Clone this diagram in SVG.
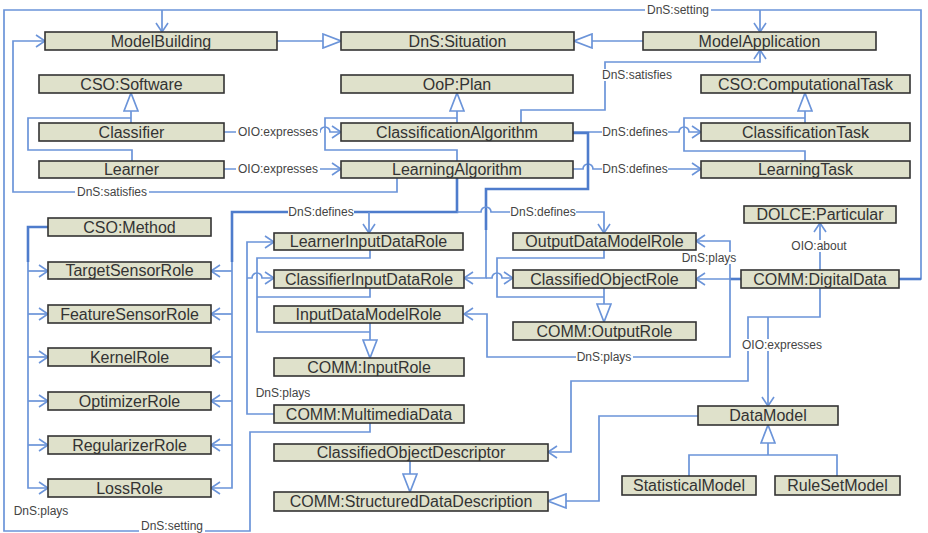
<svg xmlns="http://www.w3.org/2000/svg" width="928" height="533" viewBox="0 0 928 533">
<defs>
<marker id="arr" markerUnits="userSpaceOnUse" markerWidth="12" markerHeight="14" refX="10" refY="7" orient="auto">
<path d="M1,1 L10,7 L1,13" fill="none" stroke="#6b94d9" stroke-width="1.6"/>
</marker>
<marker id="tri" markerUnits="userSpaceOnUse" markerWidth="21" markerHeight="16" refX="19" refY="8" orient="auto">
<path d="M1,1 L19,8 L1,15 Z" fill="#fff" stroke="#6b94d9" stroke-width="1.7"/>
</marker>
</defs>
<style>
.c{fill:none;stroke:#6b94d9;stroke-width:1.7}
.t{fill:none;stroke:#4e7ccc;stroke-width:2.6}
.a{marker-end:url(#arr)}
.g{marker-end:url(#tri)}
.n rect{fill:#dfe1cb;stroke:#333;stroke-width:1.6}
.n text{font-family:"Liberation Sans",Arial,sans-serif;font-size:16px;fill:#333;text-anchor:middle}
.lb rect{fill:#fff}
.lb text{font-family:"Liberation Sans",Arial,sans-serif;font-size:12px;fill:#444;text-anchor:middle}
</style>
<rect width="928" height="533" fill="#fff"/>
<g id="connectors">
<!-- DnS:setting -->
<path class="c" d="M899,279 H921 V10 H4 V531 H250 V432 H370 V423"/>
<path class="t" d="M899,279 H921"/>
<path class="c a" d="M162,10 V32"/>
<path class="c a" d="M760,10 V32"/>
<!-- DnS:satisfies -->
<path class="c a" d="M397,178 V192 H13 V41 H45"/>
<path class="c a" d="M521,123 V110 H605 V62 H760 V50"/>
<!-- to DnS:Situation -->
<path class="c g" d="M277,41 H341"/>
<path class="c g" d="M643,41 H574"/>
<!-- generalizations top -->
<path class="c g" d="M131,123 V93"/>
<path class="c" d="M132,161 V150 H28 V118 H131"/>
<path class="c g" d="M457,123 V93"/>
<path class="c" d="M457,161 V150 H325 V118 H457"/>
<path class="c g" d="M805,123 V93"/>
<path class="c" d="M805,161 V151 H684 V118 H805"/>
<!-- OIO:expresses -->
<path class="c a" d="M224,132 H320 A5,5 0 0 1 330,132 H341"/>
<path class="c a" d="M224,169 H341"/>
<!-- DnS:defines tasks -->
<path class="c a" d="M573,132 H679 A5,5 0 0 1 689,132 H701"/>
<path class="c a" d="M573,169 H583 A5,5 0 0 1 593,169 H701"/>
<!-- ClassificationAlgorithm defines roles -->
<path class="t" d="M573,133 H588 V189 H486 V230"/>
<path class="c a" d="M486,230 V278 H464"/>
<path class="c a" d="M486,278 H492 A5,5 0 0 1 502,278 H513"/>
<!-- LearningAlgorithm defines roles -->
<path class="t" d="M457,178 V212 H232 V262"/>
<path class="c a" d="M232,262 V488 H211"/>
<path class="c a" d="M232,271 H211"/>
<path class="c a" d="M232,314 H211"/>
<path class="c a" d="M232,357 H211"/>
<path class="c a" d="M232,401 H211"/>
<path class="c a" d="M232,445 H211"/>
<path class="c a" d="M369,212 V233"/>
<path class="c a" d="M457,212 H481 A5,5 0 0 1 491,212 H604 V233"/>
<!-- CSO:Method -->
<path class="t" d="M48,227 H28 V262"/>
<path class="c a" d="M28,262 V488 H48"/>
<path class="c a" d="M28,271 H48"/>
<path class="c a" d="M28,314 H48"/>
<path class="c a" d="M28,357 H48"/>
<path class="c a" d="M28,401 H48"/>
<path class="c a" d="M28,445 H48"/>
<!-- MultimediaData plays -->
<path class="c a" d="M274,414 H247 V242 H274"/>
<path class="c a" d="M247,278 H252 A5,5 0 0 1 262,278 H274"/>
<!-- input generalization -->
<path class="c" d="M370,250 V258 H257 V332 H370"/>
<path class="c" d="M370,288 V297 H257"/>
<path class="c g" d="M370,323 V358"/>
<!-- output generalization -->
<path class="c" d="M604,250 V258 H497 V297 H604"/>
<path class="c g" d="M604,288 V322"/>
<!-- DigitalData plays -->
<path class="c a" d="M741,279 H696"/>
<path class="t" d="M741,279 H730"/>
<path class="c a" d="M730,279 V241 H696"/>
<path class="c a" d="M730,279 V357 H487 V314 H464"/>
<!-- OIO:about -->
<path class="c a" d="M820,270 V223"/>
<!-- OIO:expresses DigitalData -->
<path class="c a" d="M820,288 V317 H748 V381 H571 V452 H548"/>
<path class="c a" d="M768,317 V406"/>
<!-- descriptions -->
<path class="c g" d="M410,461 V492"/>
<path class="c g" d="M698,416 H599 V501 H548"/>
<path class="c g" d="M768,455 V425"/>
<path class="c" d="M689,476 V455 H837 V476"/>
</g>
<g id="connector-labels" class="lb">
<rect x="645" y="4" width="66" height="12"/><text x="678" y="14.3">DnS:setting</text>
<rect x="139" y="520" width="66" height="12"/><text x="172" y="530.3">DnS:setting</text>
<rect x="600" y="69" width="74" height="12"/><text x="637" y="79.3">DnS:satisfies</text>
<rect x="75" y="186" width="74" height="12"/><text x="112" y="196.3">DnS:satisfies</text>
<rect x="236" y="126" width="84" height="12"/><text x="278" y="136.3">OIO:expresses</text>
<rect x="236" y="163" width="84" height="12"/><text x="278" y="173.3">OIO:expresses</text>
<rect x="602" y="126" width="66" height="12"/><text x="635" y="136.3">DnS:defines</text>
<rect x="602" y="163" width="66" height="12"/><text x="635" y="173.3">DnS:defines</text>
<rect x="288" y="206" width="66" height="12"/><text x="321" y="216.3">DnS:defines</text>
<rect x="510" y="206" width="66" height="12"/><text x="543" y="216.3">DnS:defines</text>
<rect x="681" y="252" width="57" height="12"/><text x="709" y="262.3">DnS:plays</text>
<rect x="576" y="351" width="57" height="12"/><text x="604" y="361.3">DnS:plays</text>
<rect x="255" y="387" width="57" height="12"/><text x="283" y="397.3">DnS:plays</text>
<rect x="12" y="505" width="57" height="12"/><text x="41" y="515.3">DnS:plays</text>
<rect x="791" y="240" width="57" height="12"/><text x="819" y="250.3">OIO:about</text>
<rect x="740" y="339" width="84" height="12"/><text x="782" y="349.3">OIO:expresses</text>
</g>
<g id="ModelBuilding" class="n"><rect x="45" y="32" width="232" height="18"/><text x="161" y="46.5">ModelBuilding</text></g>
<g id="DnS_Situation" class="n"><rect x="341" y="32" width="233" height="18"/><text x="457.5" y="46.5">DnS:Situation</text></g>
<g id="ModelApplication" class="n"><rect x="643" y="32" width="233" height="18"/><text x="759.5" y="46.5">ModelApplication</text></g>
<g id="CSO_Software" class="n"><rect x="39" y="75" width="185" height="18"/><text x="131.5" y="89.5">CSO:Software</text></g>
<g id="OoP_Plan" class="n"><rect x="341" y="75" width="232" height="18"/><text x="457" y="89.5">OoP:Plan</text></g>
<g id="CSO_ComputationalTask" class="n"><rect x="701" y="75" width="209" height="18"/><text x="805.5" y="89.5">CSO:ComputationalTask</text></g>
<g id="Classifier" class="n"><rect x="39" y="123" width="185" height="18"/><text x="131.5" y="137.5">Classifier</text></g>
<g id="ClassificationAlgorithm" class="n"><rect x="341" y="123" width="232" height="18"/><text x="457" y="137.5">ClassificationAlgorithm</text></g>
<g id="ClassificationTask" class="n"><rect x="701" y="123" width="209" height="18"/><text x="805.5" y="137.5">ClassificationTask</text></g>
<g id="Learner" class="n"><rect x="39" y="161" width="185" height="17"/><text x="131.5" y="175">Learner</text></g>
<g id="LearningAlgorithm" class="n"><rect x="341" y="161" width="232" height="17"/><text x="457" y="175">LearningAlgorithm</text></g>
<g id="LearningTask" class="n"><rect x="701" y="161" width="209" height="17"/><text x="805.5" y="175">LearningTask</text></g>
<g id="CSO_Method" class="n"><rect x="48" y="218" width="163" height="18"/><text x="129.5" y="232.5">CSO:Method</text></g>
<g id="TargetSensorRole" class="n"><rect x="48" y="262" width="163" height="17"/><text x="129.5" y="276">TargetSensorRole</text></g>
<g id="FeatureSensorRole" class="n"><rect x="48" y="305" width="163" height="18"/><text x="129.5" y="319.5">FeatureSensorRole</text></g>
<g id="KernelRole" class="n"><rect x="48" y="348" width="163" height="18"/><text x="129.5" y="362.5">KernelRole</text></g>
<g id="OptimizerRole" class="n"><rect x="48" y="392" width="163" height="18"/><text x="129.5" y="406.5">OptimizerRole</text></g>
<g id="RegularizerRole" class="n"><rect x="48" y="436" width="163" height="18"/><text x="129.5" y="450.5">RegularizerRole</text></g>
<g id="LossRole" class="n"><rect x="48" y="479" width="163" height="18"/><text x="129.5" y="493.5">LossRole</text></g>
<g id="LearnerInputDataRole" class="n"><rect x="274" y="233" width="189" height="17"/><text x="368.5" y="247">LearnerInputDataRole</text></g>
<g id="ClassifierInputDataRole" class="n"><rect x="274" y="270" width="190" height="18"/><text x="369" y="284.5">ClassifierInputDataRole</text></g>
<g id="InputDataModelRole" class="n"><rect x="274" y="306" width="189" height="17"/><text x="368.5" y="320">InputDataModelRole</text></g>
<g id="COMM_InputRole" class="n"><rect x="274" y="358" width="190" height="18"/><text x="369" y="372.5">COMM:InputRole</text></g>
<g id="COMM_MultimediaData" class="n"><rect x="274" y="405" width="190" height="18"/><text x="369" y="419.5">COMM:MultimediaData</text></g>
<g id="ClassifiedObjectDescriptor" class="n"><rect x="274" y="444" width="274" height="17"/><text x="411" y="458">ClassifiedObjectDescriptor</text></g>
<g id="COMM_StructuredDataDescription" class="n"><rect x="274" y="492" width="274" height="19"/><text x="411" y="507">COMM:StructuredDataDescription</text></g>
<g id="OutputDataModelRole" class="n"><rect x="513" y="233" width="183" height="17"/><text x="604.5" y="247">OutputDataModelRole</text></g>
<g id="ClassifiedObjectRole" class="n"><rect x="513" y="270" width="183" height="18"/><text x="604.5" y="284.5">ClassifiedObjectRole</text></g>
<g id="COMM_OutputRole" class="n"><rect x="513" y="322" width="183" height="18"/><text x="604.5" y="336.5">COMM:OutputRole</text></g>
<g id="DOLCE_Particular" class="n"><rect x="744" y="206" width="152" height="17"/><text x="820" y="220">DOLCE:Particular</text></g>
<g id="COMM_DigitalData" class="n"><rect x="741" y="270" width="158" height="18"/><text x="820" y="284.5">COMM:DigitalData</text></g>
<g id="DataModel" class="n"><rect x="698" y="406" width="140" height="19"/><text x="768" y="421">DataModel</text></g>
<g id="StatisticalModel" class="n"><rect x="622" y="476" width="134" height="19"/><text x="689" y="491">StatisticalModel</text></g>
<g id="RuleSetModel" class="n"><rect x="775" y="476" width="125" height="19"/><text x="837.5" y="491">RuleSetModel</text></g>
</svg>
